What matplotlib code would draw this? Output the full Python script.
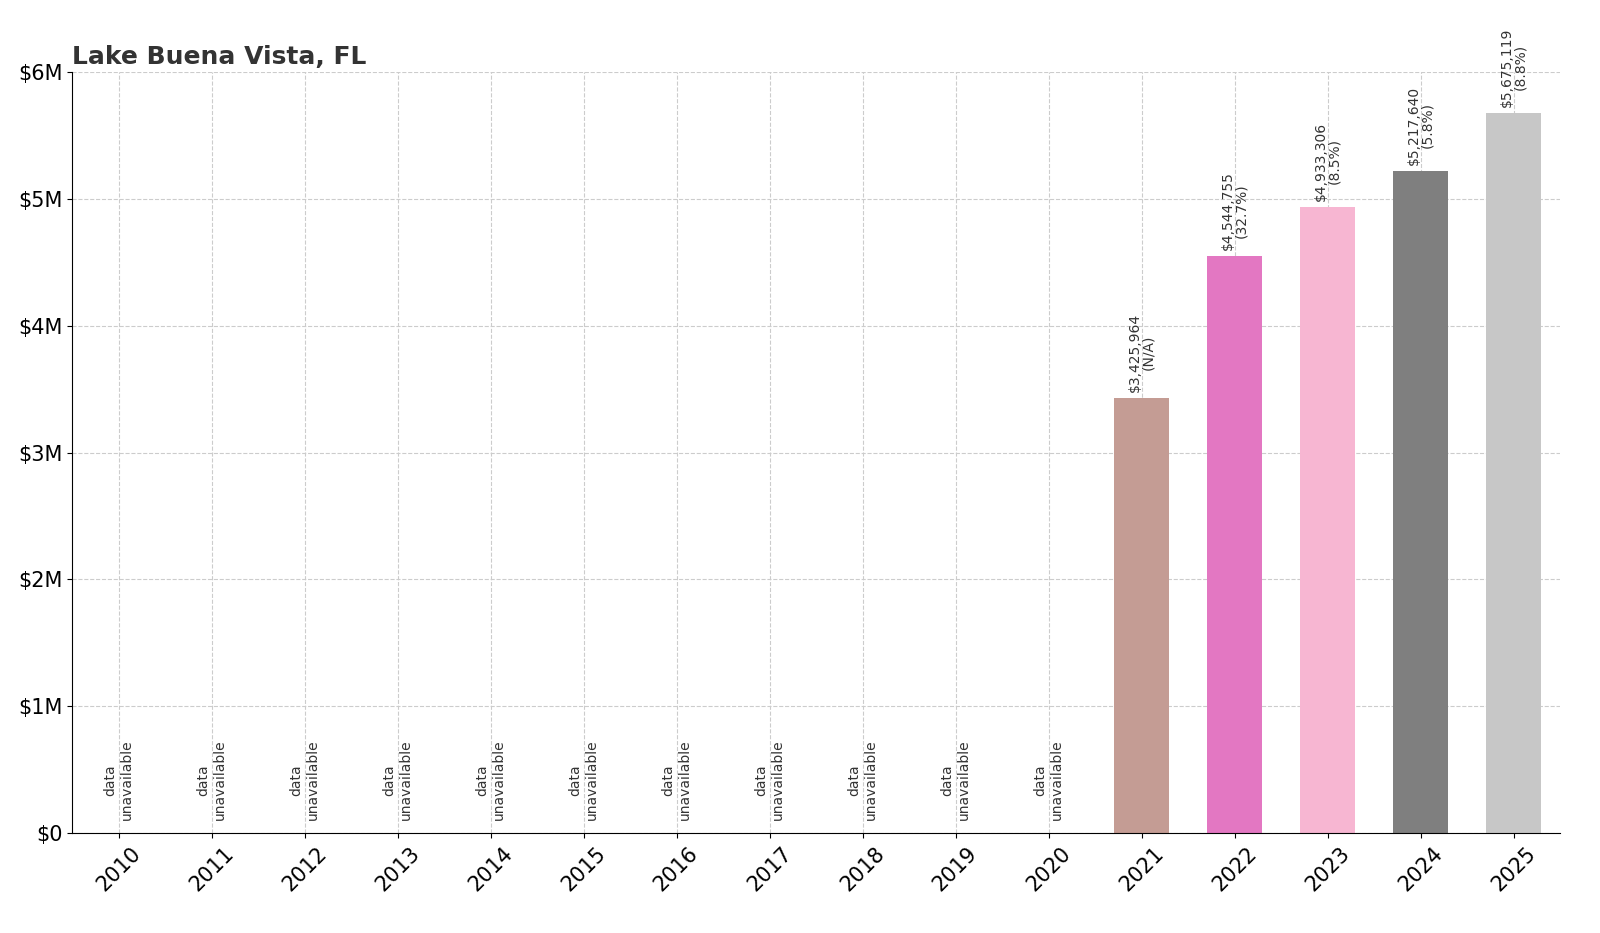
import matplotlib
matplotlib.use("Agg")
import matplotlib.pyplot as plt
from matplotlib.ticker import FuncFormatter

years = [str(y) for y in range(2010, 2026)]
values = [None] * 11 + [3425964, 4544755, 4933306, 5217640, 5675119]
changes = [None] * 11 + ["N/A", "32.7%", "8.5%", "5.8%", "8.8%"]
bar_colors = ["#c49c94", "#e377c2", "#f7b6d2", "#7f7f7f", "#c7c7c7"]

fig, ax = plt.subplots(figsize=(16, 9.33), dpi=100)
fig.subplots_adjust(left=0.045, right=0.975, top=0.923, bottom=0.107)

ci = 0
for i, (v, c) in enumerate(zip(values, changes)):
    if v is None:
        ax.text(i, 0.1e6, "data\nunavailable", rotation=90, ha="center", va="bottom",
                fontsize=10, color="#333333")
    else:
        ax.bar(i, v, width=0.6, color=bar_colors[ci], zorder=2)
        ci += 1
        ax.text(i, v + 0.05e6, f"${v:,.0f}\n({c})", rotation=90, ha="center", va="bottom",
                fontsize=10, color="#333333", linespacing=1.0)

ax.set_xlim(-0.5, len(years) - 0.5)
ax.set_ylim(0, 6e6)
ax.set_xticks(range(len(years)))
ax.set_xticklabels(years, rotation=45, fontsize=15)
ax.yaxis.set_major_formatter(FuncFormatter(lambda x, p: f"${x/1e6:.0f}M" if x else "$0"))
ax.tick_params(axis="y", labelsize=15)
ax.grid(True, linestyle="--", color="#cccccc", zorder=0)
ax.set_axisbelow(True)
ax.spines["top"].set_visible(False)
ax.spines["right"].set_visible(False)
ax.set_title("Lake Buena Vista, FL", loc="left", fontsize=18, fontweight="bold", color="#333333")

fig.savefig("out.png")
